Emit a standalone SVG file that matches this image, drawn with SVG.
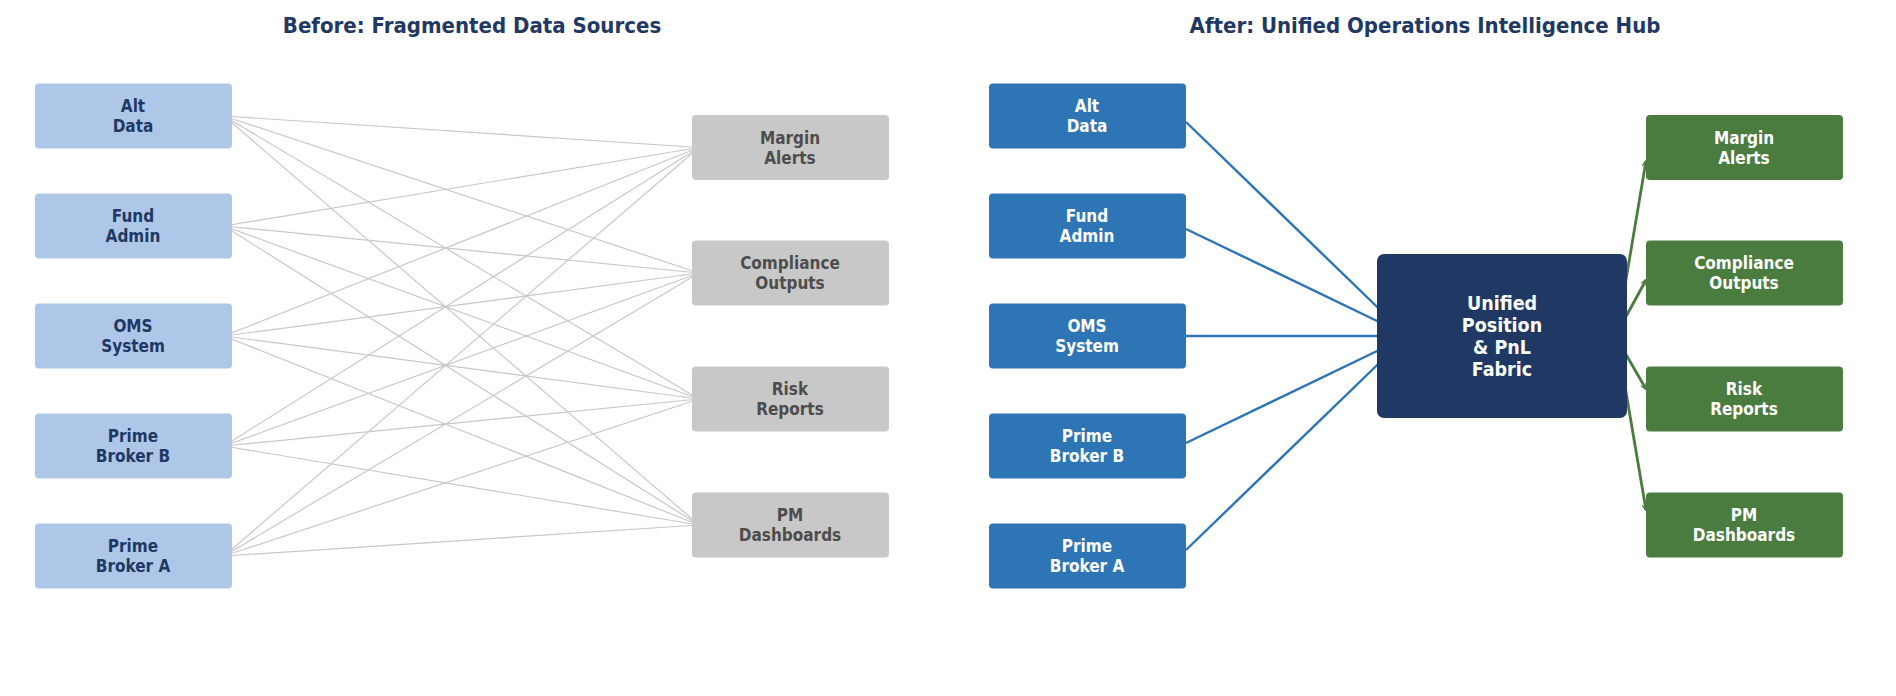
<svg xmlns="http://www.w3.org/2000/svg" width="1896" height="696" viewBox="0 0 1896 696">
<style>
text{font-family:"DejaVu Sans Condensed","DejaVu Sans",sans-serif;font-stretch:condensed;font-weight:bold;text-anchor:middle}
.t{font-size:22px;fill:#1f3864}
.lb rect{fill:#aec7e8}.lb text{fill:#1f3864;font-size:17px}
.gb rect{fill:#c8c8c8}.gb text{fill:#4d4d4d;font-size:17px}
.bb rect{fill:#2e75b6}.bb text{fill:#fff;font-size:17px}
.grb rect{fill:#4a7c3f}.grb text{fill:#fff;font-size:17px}
.g{stroke:#c8c8c8;stroke-width:1.2;fill:none}
.b{stroke:#2e75b6;stroke-width:2.4;fill:none;marker-end:url(#ab)}
.e{stroke:#4a7c3f;stroke-width:2.8;fill:none;marker-end:url(#ag)}
</style>
<defs>
<marker id="ab" viewBox="0 0 10 10" refX="9" refY="5" markerWidth="6" markerHeight="6" orient="auto" markerUnits="userSpaceOnUse"><path d="M0,0L10,5L0,10" fill="none" stroke="#2e75b6" stroke-width="2"/></marker>
<marker id="ag" viewBox="0 0 10 10" refX="9" refY="5" markerWidth="6" markerHeight="6" orient="auto" markerUnits="userSpaceOnUse"><path d="M0,0L10,5L0,10" fill="none" stroke="#4a7c3f" stroke-width="2"/></marker>
</defs>
<text class="t" x="472" y="33">Before: Fragmented Data Sources</text>
<text class="t" x="1425" y="33">After: Unified Operations Intelligence Hub</text>
<g id="connectors">
<g id="before-lines">
<path class="g" d="M224,116L699,147.5M224,116L699,273M224,116L699,399M224,116L699,525"/>
<path class="g" d="M224,226L699,147.5M224,226L699,273M224,226L699,399M224,226L699,525"/>
<path class="g" d="M224,336L699,147.5M224,336L699,273M224,336L699,399M224,336L699,525"/>
<path class="g" d="M224,446L699,147.5M224,446L699,273M224,446L699,399M224,446L699,525"/>
<path class="g" d="M224,556L699,147.5M224,556L699,273M224,556L699,399M224,556L699,525"/>
</g>
<g id="after-lines">
<path class="b" d="M1186,122L1402,331"/>
<path class="b" d="M1186,229L1402,333"/>
<path class="b" d="M1186,336L1402,336"/>
<path class="b" d="M1186,443L1402,339"/>
<path class="b" d="M1186,550L1402,341"/>
<path class="e" d="M1617,333L1646,161"/>
<path class="e" d="M1617,333L1646,280"/>
<path class="e" d="M1617,339L1646,389"/>
<path class="e" d="M1617,339L1646,510"/>
</g>
</g>
<g id="alt-data-1" class="lb"><rect x="35" y="83.5" width="197" height="65" rx="4"/><text x="133" y="112">Alt</text><text x="133" y="132">Data</text></g>
<g id="fund-admin-1" class="lb"><rect x="35" y="193.5" width="197" height="65" rx="4"/><text x="133" y="222">Fund</text><text x="133" y="242">Admin</text></g>
<g id="oms-1" class="lb"><rect x="35" y="303.5" width="197" height="65" rx="4"/><text x="133" y="332">OMS</text><text x="133" y="352">System</text></g>
<g id="pbb-1" class="lb"><rect x="35" y="413.5" width="197" height="65" rx="4"/><text x="133" y="442">Prime</text><text x="133" y="462">Broker B</text></g>
<g id="pba-1" class="lb"><rect x="35" y="523.5" width="197" height="65" rx="4"/><text x="133" y="552">Prime</text><text x="133" y="572">Broker A</text></g>
<g id="margin-1" class="gb"><rect x="692" y="115" width="197" height="65" rx="4"/><text x="790" y="143.5">Margin</text><text x="790" y="163.5">Alerts</text></g>
<g id="compliance-1" class="gb"><rect x="692" y="240.5" width="197" height="65" rx="4"/><text x="790" y="269">Compliance</text><text x="790" y="289">Outputs</text></g>
<g id="risk-1" class="gb"><rect x="692" y="366.5" width="197" height="65" rx="4"/><text x="790" y="395">Risk</text><text x="790" y="415">Reports</text></g>
<g id="pm-1" class="gb"><rect x="692" y="492.5" width="197" height="65" rx="4"/><text x="790" y="521">PM</text><text x="790" y="541">Dashboards</text></g>
<g id="alt-data-2" class="bb"><rect x="989" y="83.5" width="197" height="65" rx="4"/><text x="1087" y="112">Alt</text><text x="1087" y="132">Data</text></g>
<g id="fund-admin-2" class="bb"><rect x="989" y="193.5" width="197" height="65" rx="4"/><text x="1087" y="222">Fund</text><text x="1087" y="242">Admin</text></g>
<g id="oms-2" class="bb"><rect x="989" y="303.5" width="197" height="65" rx="4"/><text x="1087" y="332">OMS</text><text x="1087" y="352">System</text></g>
<g id="pbb-2" class="bb"><rect x="989" y="413.5" width="197" height="65" rx="4"/><text x="1087" y="442">Prime</text><text x="1087" y="462">Broker B</text></g>
<g id="pba-2" class="bb"><rect x="989" y="523.5" width="197" height="65" rx="4"/><text x="1087" y="552">Prime</text><text x="1087" y="572">Broker A</text></g>
<g id="hub"><rect x="1377" y="254" width="250" height="164" rx="7" fill="#1f3864"/><text x="1502" y="310" fill="#fff" font-size="19.5">Unified</text><text x="1502" y="332" fill="#fff" font-size="19.5">Position</text><text x="1502" y="354" fill="#fff" font-size="19.5">&amp; PnL</text><text x="1502" y="376" fill="#fff" font-size="19.5">Fabric</text></g>
<g id="margin-2" class="grb"><rect x="1646" y="115" width="197" height="65" rx="4"/><text x="1744" y="143.5">Margin</text><text x="1744" y="163.5">Alerts</text></g>
<g id="compliance-2" class="grb"><rect x="1646" y="240.5" width="197" height="65" rx="4"/><text x="1744" y="269">Compliance</text><text x="1744" y="289">Outputs</text></g>
<g id="risk-2" class="grb"><rect x="1646" y="366.5" width="197" height="65" rx="4"/><text x="1744" y="395">Risk</text><text x="1744" y="415">Reports</text></g>
<g id="pm-2" class="grb"><rect x="1646" y="492.5" width="197" height="65" rx="4"/><text x="1744" y="521">PM</text><text x="1744" y="541">Dashboards</text></g>
</svg>
